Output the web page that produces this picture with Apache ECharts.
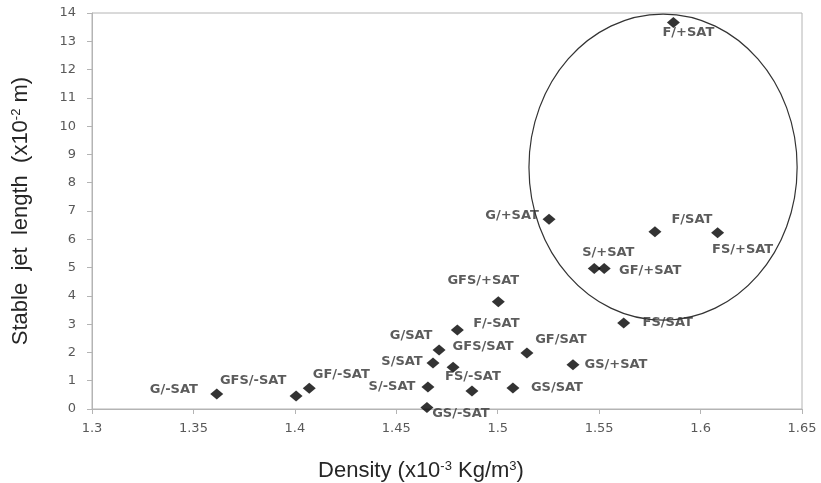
<!DOCTYPE html>
<html>
<head>
<meta charset="utf-8">
<script src="https://cdn.jsdelivr.net/npm/echarts@6/dist/echarts.min.js"></script>
<style>
  html, body { margin: 0; padding: 0; background: #fff; }
  #chart { width: 821px; height: 483px; }
</style>
</head>
<body>
<div id="chart"></div>
<script>
// sample names, density (x10^-3 kg/m3) and stable jet length (x10^-2 m)
const sampleNames = [
  'G/-SAT', 'GFS/-SAT', 'GF/-SAT', 'S/-SAT', 'GS/-SAT', 'FS/-SAT', 'GS/SAT',
  'S/SAT', 'G/SAT', 'GFS/SAT', 'F/-SAT', 'GF/SAT', 'GFS/+SAT', 'GS/+SAT',
  'FS/SAT', 'S/+SAT', 'GF/+SAT', 'G/+SAT', 'F/SAT', 'FS/+SAT', 'F/+SAT'
];
const density = [
  1.3615, 1.4006, 1.4071, 1.4656, 1.4651, 1.4873, 1.5075,
  1.4681, 1.4780, 1.4711, 1.4801, 1.5144, 1.5003, 1.5371,
  1.5621, 1.5476, 1.5525, 1.5253, 1.5775, 1.6084, 1.5866
];
const jetLength = [
  0.53, 0.46, 0.73, 0.78, 0.05, 0.64, 0.74,
  1.63, 1.48, 2.09, 2.79, 1.98, 3.79, 1.56,
  3.04, 4.97, 4.97, 6.71, 6.27, 6.23, 13.66
];

// where each data label sits, relative to its marker (px)
const labelOffsets = {
  'G/-SAT': [-43, -4], 'GFS/-SAT': [-43, -15], 'GF/-SAT': [32, -14],
  'S/-SAT': [-36, 0], 'GS/-SAT': [34, 6], 'FS/-SAT': [1, -14],
  'GS/SAT': [44, 0], 'S/SAT': [-31, -1], 'G/SAT': [-42, -32],
  'GFS/SAT': [44, -3], 'F/-SAT': [39, -6], 'GF/SAT': [34, -13],
  'GFS/+SAT': [-15, -21], 'GS/+SAT': [43, 0], 'FS/SAT': [44, 0],
  'S/+SAT': [14, -16], 'GF/+SAT': [46, 2], 'G/+SAT': [-37, -4],
  'F/SAT': [37, -12], 'FS/+SAT': [25, 17], 'F/+SAT': [15, 10]
};

// hand-drawn ellipse around the +SAT group, in data units
const ellipseCenter = [1.5815, 8.55];
const ellipseRadius = [0.0661, 5.41];

const points = sampleNames.map((n, i) => ({
  name: n,
  value: [density[i], jetLength[i]],
  label: { offset: labelOffsets[n] }
}));

const chart = echarts.init(document.getElementById('chart'));
const axisGrey = '#b4b4b4';
const tickFont = { fontFamily: 'DejaVu Sans', fontSize: 13, color: '#595959' };
const supStyle = { fontFamily: 'Liberation Sans', fontSize: 13, color: '#262626', verticalAlign: 'top' };

chart.setOption({
  animation: false,
  grid: {
    left: 92, right: 19, top: 13, bottom: 74,
    outerBoundsMode: 'none',
    show: true, borderColor: axisGrey, borderWidth: 1
  },
  xAxis: {
    type: 'value',
    min: 1.3, max: 1.65, interval: 0.05,
    name: 'Density (x10{sup|-3} Kg/m{sup|3})',
    nameLocation: 'middle',
    nameGap: 51,
    nameTextStyle: {
      fontFamily: 'Liberation Sans', fontSize: 22, color: '#262626',
      padding: [0, 52, 0, 0],
      rich: { sup: supStyle }
    },
    axisLine: { lineStyle: { color: axisGrey } },
    axisTick: { show: true, length: 5, lineStyle: { color: axisGrey } },
    axisLabel: Object.assign({ margin: 13 }, tickFont),
    splitLine: { show: false }
  },
  yAxis: {
    type: 'value',
    min: 0, max: 14, interval: 1,
    name: 'Stable  jet  length  (x10{sup|-2} m)',
    nameLocation: 'middle',
    nameGap: 60,
    nameTextStyle: {
      fontFamily: 'Liberation Sans', fontSize: 22, color: '#262626',
      rich: { sup: supStyle }
    },
    axisLine: { show: true, lineStyle: { color: axisGrey } },
    axisTick: { show: true, length: 5, lineStyle: { color: axisGrey } },
    axisLabel: Object.assign({ margin: 16 }, tickFont),
    splitLine: { show: false }
  },
  series: [{
    type: 'scatter',
    symbol: 'diamond',
    symbolSize: [13, 11],
    itemStyle: { color: '#000' },
    data: points,
    label: {
      show: true,
      position: 'inside',
      formatter: '{b}',
      fontFamily: 'DejaVu Sans',
      fontWeight: 'bold',
      fontSize: 13,
      color: '#333'
    },
    emphasis: { disabled: true }
  }]
});

const c = chart.convertToPixel({ gridIndex: 0 }, ellipseCenter);
const e = chart.convertToPixel({ gridIndex: 0 }, [
  ellipseCenter[0] + ellipseRadius[0], ellipseCenter[1] + ellipseRadius[1]
]);
chart.setOption({
  graphic: [{
    type: 'ellipse',
    shape: { cx: c[0], cy: c[1], rx: Math.abs(e[0] - c[0]), ry: Math.abs(e[1] - c[1]) },
    style: { fill: 'none', stroke: '#333', lineWidth: 1.2 },
    z: 10
  }]
});
</script>
</body>
</html>
